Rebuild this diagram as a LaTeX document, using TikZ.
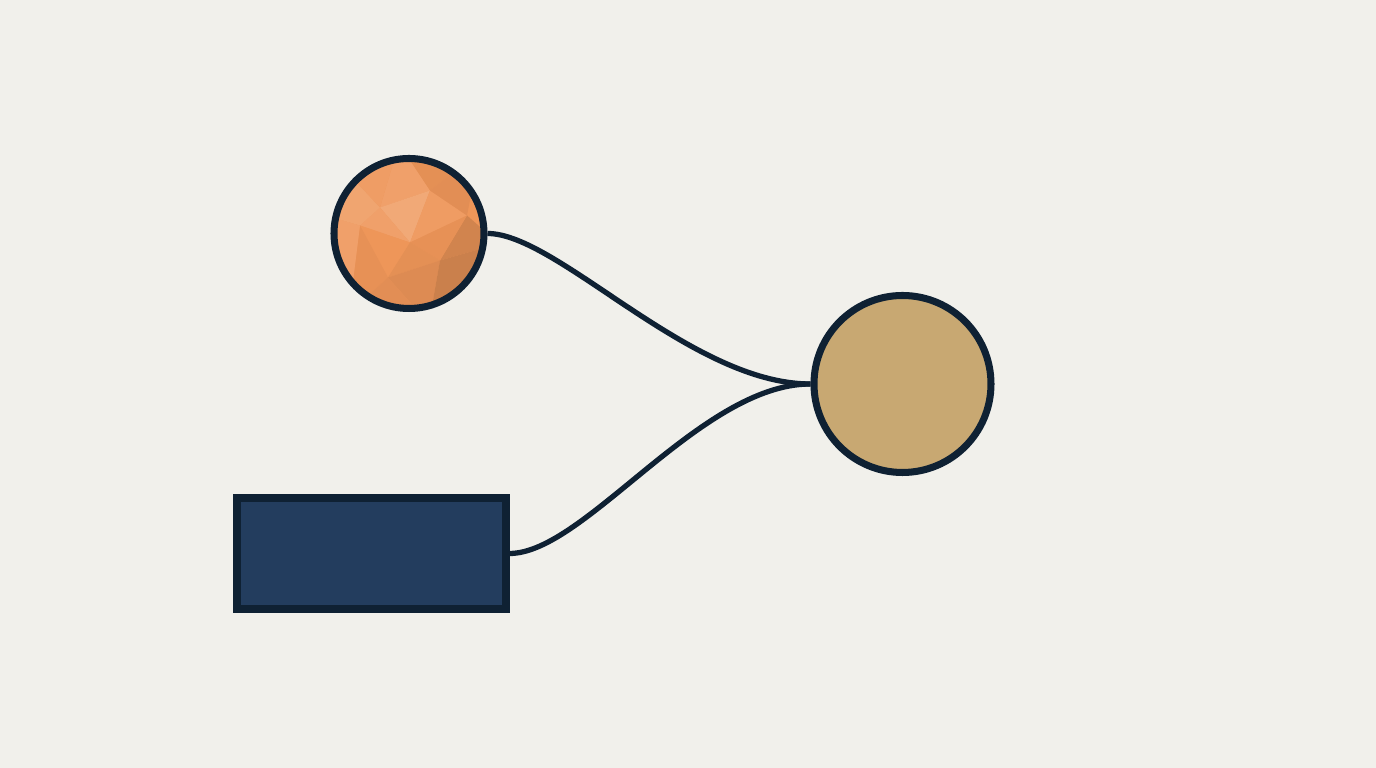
\documentclass[tikz,border=0pt]{standalone}
\usepackage{xcolor}
\usepackage{tikz}
\usetikzlibrary{positioning, calc}

\definecolor{paper}{HTML}{F1F0EB}
\definecolor{ink}{HTML}{0F2133}
\definecolor{navy}{HTML}{233D5E}
\definecolor{sand}{HTML}{C8A872}
\definecolor{peach}{HTML}{EE9659}

\begin{document}
\begin{tikzpicture}[
    ring/.style={circle,draw=ink,line width=2pt,inner sep=0pt},
    wire/.style={draw=ink,line width=1.5pt},
    facet/.style={fill=#1,draw=none}
  ]
    \fill[paper] (0,0) rectangle (13.76,7.68);
    \useasboundingbox (0,0) rectangle (13.76,7.68);

    \node[ring,fill=peach,minimum size=1.5cm,path picture={
        \begin{scope}[shift={(path picture bounding box.center)}]
          \coordinate (A) at (-0.29,0.26);
          \coordinate (B) at (0.21,0.43);
          \coordinate (C) at (0.01,-0.09);
          \coordinate (D) at (-0.21,-0.44);
          \coordinate (E) at (0.31,-0.27);
          \coordinate (F) at (0.58,0.18);
          \coordinate (G) at (-0.49,0.08);
          \fill[facet=peach!90!white] (A) -- (B) -- (-0.1,0.9) -- cycle;
          \fill[facet=peach!96!black] (B) -- (0.7,0.8) -- (-0.1,0.9) -- cycle;
          \fill[facet=peach!82!white] (A) -- (B) -- (C) -- cycle;
          \fill[facet=peach!94!white] (B) -- (F) -- (C) -- cycle;
          \fill[facet=peach!95!black] (B) -- (0.7,0.8) -- (F) -- cycle;
          \fill[facet=peach!88!black] (F) -- (0.9,-0.1) -- (E) -- cycle;
          \fill[facet=peach!97!black] (C) -- (F) -- (E) -- cycle;
          \fill[facet=peach!90!white] (A) -- (C) -- (G) -- cycle;
          \fill[facet=peach] (G) -- (C) -- (D) -- cycle;
          \fill[facet=peach!96!black] (C) -- (E) -- (D) -- cycle;
          \fill[facet=peach!93!black] (D) -- (E) -- (0.2,-0.9) -- cycle;
          \fill[facet=peach!85!black] (E) -- (0.9,-0.1) -- (0.8,-0.8) -- (0.2,-0.9) -- cycle;
          \fill[facet=peach!97!black] (G) -- (D) -- (-0.6,-0.8) -- cycle;
          \fill[facet=peach!90!white] (G) -- (-0.9,0.2) -- (-0.6,-0.8) -- cycle;
          \fill[facet=peach!86!white] (A) -- (G) -- (-0.9,0.2) -- (-0.7,0.7) -- cycle;
          \fill[facet=peach!93!white] (A) -- (-0.7,0.7) -- (-0.1,0.9) -- cycle;
          \fill[facet=peach!95!black] (D) -- (0.2,-0.9) -- (-0.6,-0.8) -- cycle;
        \end{scope}}] (orb) at (4.09,5.345) {};

    \node[ring,fill=sand,minimum size=1.77cm] (hub) at (9.025,3.84) {};

    \node[draw=ink,fill=navy,line width=2pt,minimum width=2.69cm,minimum height=1.11cm,inner sep=0pt] (block) at (3.715,2.145) {};

    \draw[wire] (orb.east) .. controls +(0.7,0) and +(-1.2,0) .. (hub.west);
    \draw[wire] (block.east) .. controls +(0.75,0) and +(-1.1,0) .. (hub.west);
  \end{tikzpicture}
\end{document}
